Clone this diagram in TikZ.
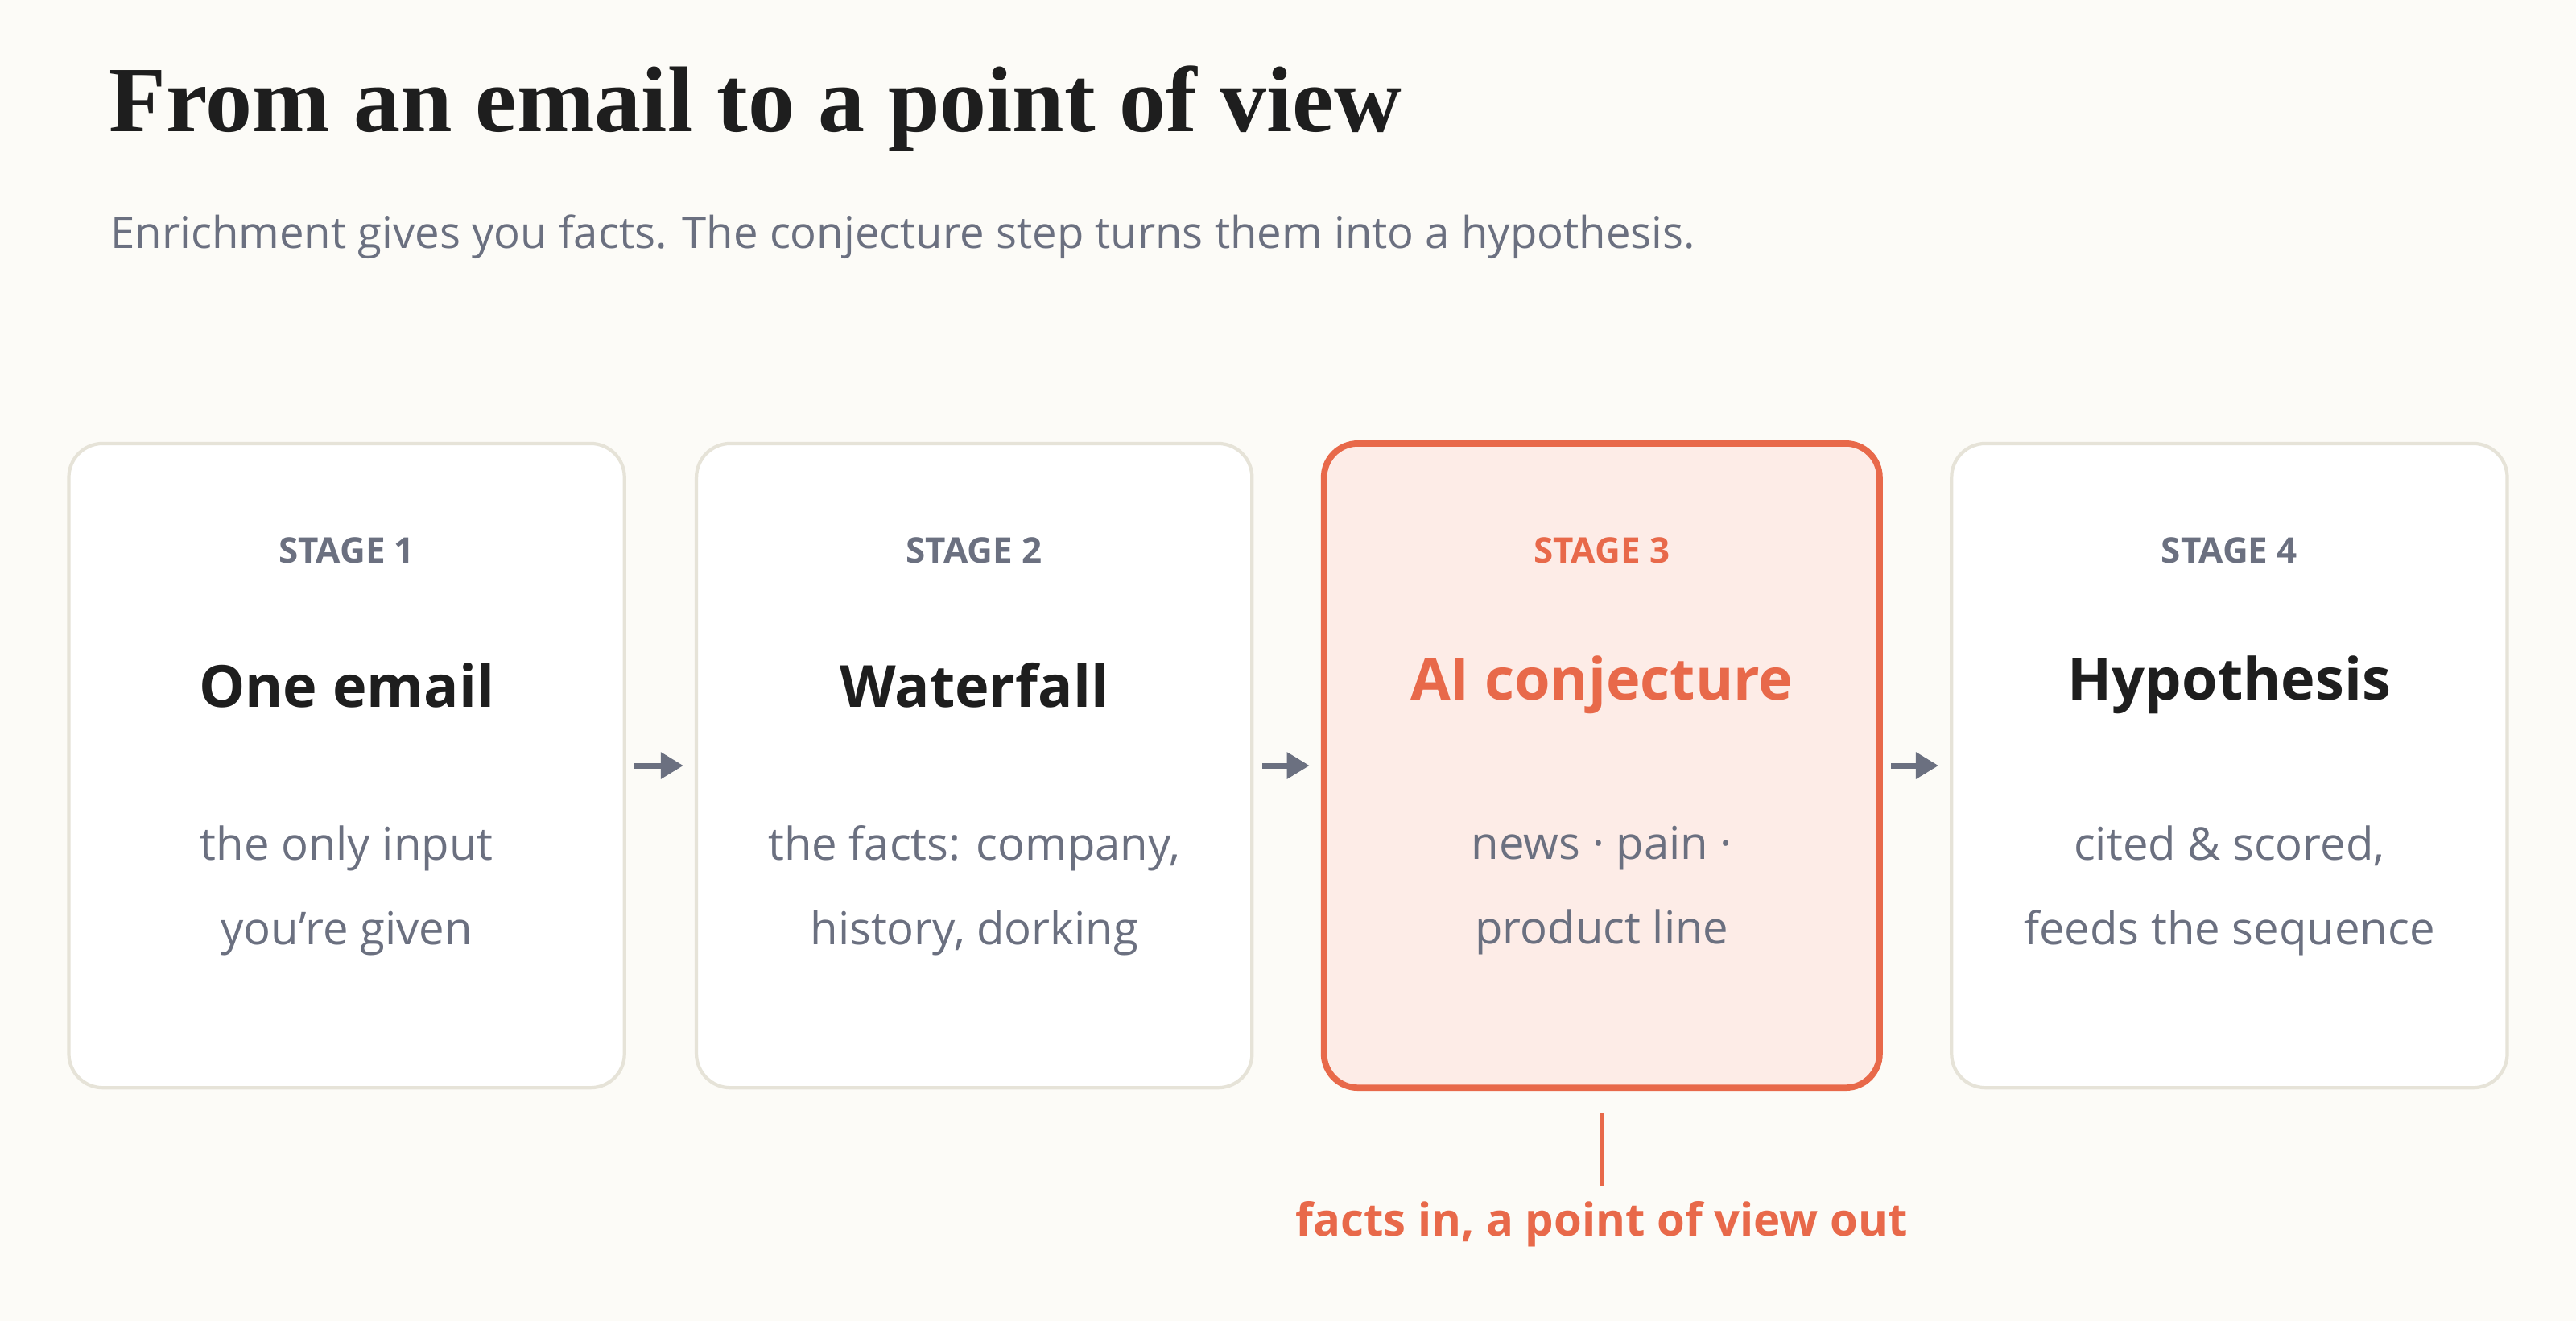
\documentclass[tikz,border=0pt]{standalone}
\usepackage{fontspec}
\setmainfont{Open Sans}
\newfontfamily\titlefont{Liberation Serif}
\usetikzlibrary{positioning,arrows.meta}
\definecolor{bgcol}{HTML}{FCFBF7}
\definecolor{edgecol}{HTML}{E6E3D8}
\definecolor{accent}{HTML}{E8694A}
\definecolor{accentfill}{HTML}{FDECE7}
\definecolor{mutedgray}{HTML}{6B7080}
\definecolor{inkcol}{HTML}{1E1E1E}
\tikzset{
  stagebox/.style={draw=edgecol, line width=1.2pt, fill=white, rounded corners=12pt,
    minimum width=6.9cm, minimum height=8cm, inner sep=0pt},
  hotbox/.style={stagebox, draw=accent, fill=accentfill, line width=2.2pt},
  stagetag/.style={font=\fontsize{12.5}{14}\selectfont\bfseries, text=mutedgray},
  stagename/.style={font=\fontsize{20.5}{25}\selectfont\bfseries, text=inkcol},
  stagetext/.style={font=\fontsize{16}{30}\selectfont, text=mutedgray, align=center},
  flow/.style={-{Triangle[length=8pt,width=9pt]}, line width=2pt, draw=mutedgray,
    shorten <=3pt, shorten >=4pt},
}
\begin{document}
\begin{tikzpicture}[x=0.0204cm, y=-0.0204cm]
  \fill[bgcol] (0,0) rectangle (1568,804);

  % heading
  \node[anchor=base west, inner sep=0pt, font=\titlefont\fontsize{33}{38}\selectfont\bfseries, text=inkcol] (title) at (66,80) {From an email to a point of view};
  \node[anchor=base west, inner sep=0pt, font=\fontsize{15.5}{18}\selectfont, text=mutedgray] (subtitle) at (67,151) {Enrichment gives you facts. The conjecture step turns them into a hypothesis.};

  % stages
  \node[stagebox] (S1) at (211,466) {};
  \node[stagebox] (S2) at (593,466) {};
  \node[hotbox]   (S3) at (975,466) {};
  \node[stagebox] (S4) at (1357,466) {};

  \node[stagetag] (T1) at (211,335) {STAGE 1};
  \node[stagetag] (T2) at (593,335) {STAGE 2};
  \node[stagetag, text=accent] (T3) at (975,335) {STAGE 3};
  \node[stagetag] (T4) at (1357,335) {STAGE 4};

  \node[stagename] (N1) at (211,417) {One email};
  \node[stagename] (N2) at (593,417) {Waterfall};
  \node[stagename, text=accent] (N3) at (975,417) {AI conjecture};
  \node[stagename] (N4) at (1357,417) {Hypothesis};

  \node[stagetext] (D1) at (211,542) {the only input\\you're given};
  \node[stagetext] (D2) at (593,542) {the facts: company,\\history, dorking};
  \node[stagetext] (D3) at (975,542) {news · pain ·\\product line};
  \node[stagetext] (D4) at (1357,542) {cited \& scored,\\feeds the sequence};

  % arrows between stages
  \foreach \i/\j in {1/2,2/3,3/4} {
    \draw[flow] (S\i.east) -- (S\j.west);
  }

  % callout
  \node[font=\fontsize{16}{20}\selectfont\bfseries, text=accent] (note) at (975,745) {facts in, a point of view out};
  \draw[accent, line width=1.2pt, shorten <=8pt, shorten >=2pt] (S3.south) -- (note.north);
\end{tikzpicture}
\end{document}
